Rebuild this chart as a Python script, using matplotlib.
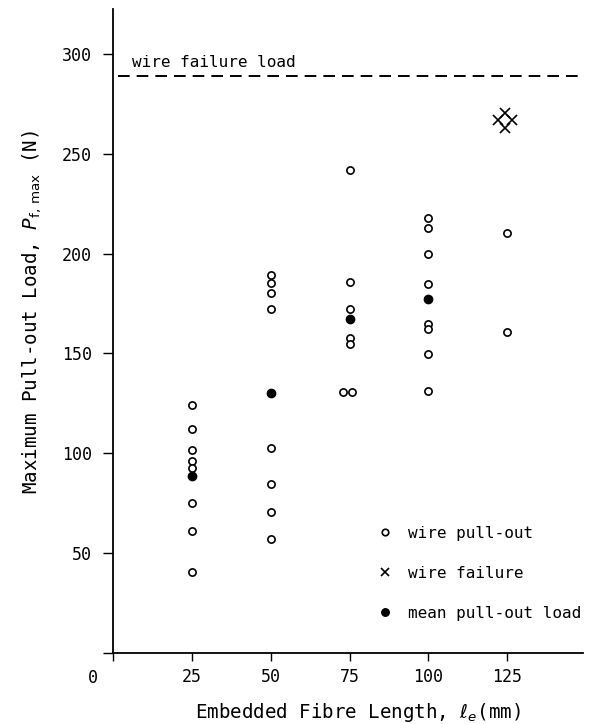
import matplotlib
matplotlib.use("Agg")
import matplotlib.pyplot as plt

plt.rcParams['font.family'] = ['DejaVu Sans Mono']
plt.rcParams['mathtext.fontset'] = 'dejavusans'

# wire pull-out results (embedded length in mm, max load in N)
pullout_len = [25, 25, 25, 25, 25, 25, 25, 25,
               50, 50, 50, 50, 50, 50, 50, 50,
               75, 75, 75, 75, 75, 72.9, 75.8,
               100, 100, 100, 100, 100, 100, 100, 100,
               125, 125]
pullout_load = [124, 112.3, 101.5, 96.2, 92.5, 75, 61.2, 40.3,
                189.5, 185.3, 180.3, 172.3, 102.8, 84.7, 70.3, 56.8,
                241.7, 185.8, 172, 157.8, 154.5, 130.5, 130.5,
                217.8, 212.8, 200, 184.5, 164.5, 162, 149.5, 131.2,
                210.3, 160.8]

# wire failures
failure_len = [124.5, 122.2, 126.6, 124.5]
failure_load = [270.3, 267, 267, 262.8]

# mean pull-out load
mean_len = [25, 50, 75, 100]
mean_load = [88.7, 130.3, 167, 177.3]

wire_failure_load = 289
xticks = [25, 50, 75, 100, 125]
yticks = [50, 100, 150, 200, 250, 300]

fig = plt.figure(figsize=(5.96, 7.24), dpi=100)
ax = fig.add_axes([113.25 / 596, 1 - 652.8 / 724, 469.75 / 596, 643.8 / 724])
ax.set_xlim(0, 149.1)
ax.set_ylim(0, 322.5)

ax.plot(pullout_len, pullout_load, 'o', ms=5.2, mfc='white', mec='black',
        mew=1.2, label='wire pull-out', zorder=3)
ax.plot(failure_len, failure_load, 'x', ms=6.5, mec='black', mew=1.2,
        label='wire failure', zorder=3)
ax.plot(mean_len, mean_load, 'o', ms=6, mfc='black', mec='black',
        mew=1.0, label='mean pull-out load', zorder=4)

# wire failure load line
ax.hlines(wire_failure_load, 1.5, 149.1, colors='black', lw=1.4,
          linestyles=(0, (6, 3.6)))
ax.text(6, 293.5, 'wire failure load', fontsize=11.5, va='baseline')

for side in ['top', 'right']:
    ax.spines[side].set_visible(False)
for side in ['left', 'bottom']:
    ax.spines[side].set_linewidth(1.3)

ax.set_xticks([0] + xticks)
ax.set_xticklabels([''] + [str(t) for t in xticks])
ax.set_yticks([0] + yticks)
ax.set_yticklabels([''] + [str(t) for t in yticks])
ax.tick_params(axis='x', direction='out', length=6, width=1.0, pad=5,
               labelsize=12)
ax.tick_params(axis='y', direction='out', length=7.2, width=1.0, pad=8,
               labelsize=12)
ax.text(93 / 596, 1 - 678 / 724, '0', transform=fig.transFigure,
        fontsize=12, ha='center', va='center')

fig.text(358 / 596, 1 - 718 / 724,
         r'Embedded Fibre Length, $\ell_e$(mm)', fontsize=13.8,
         ha='center', va='baseline')
fig.text(32 / 596, 1 - 312 / 724,
         r'Maximum Pull-out Load, $\mathit{P}_{\mathrm{f,\,max}}$ (N)',
         fontsize=13.8, rotation=90, ha='center', va='center')

ax.legend(loc='upper left', bbox_to_anchor=(377 / 596, 1 - 526 / 724),
          bbox_transform=fig.transFigure, frameon=False, fontsize=11.5,
          handlelength=1.0, handletextpad=0.95, labelspacing=1.55,
          borderpad=0, borderaxespad=0, markerscale=0.9)

fig.savefig('out.png', dpi=100)
